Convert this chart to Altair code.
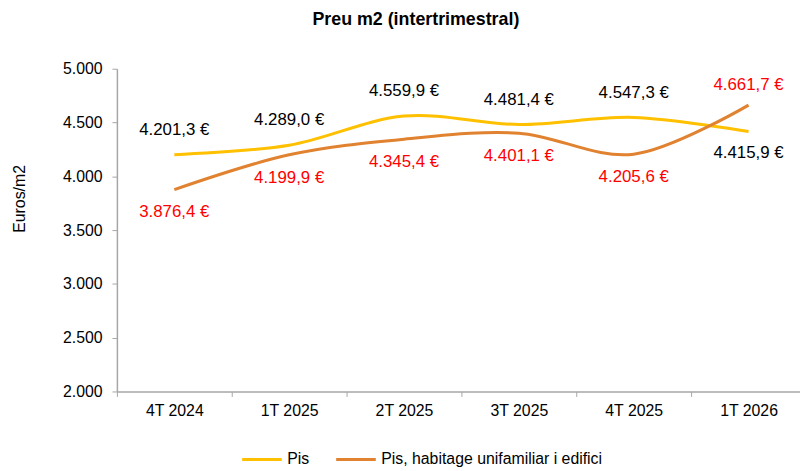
import json
import altair as alt
import pandas as pd

quarters = ["4T 2024", "1T 2025", "2T 2025", "3T 2025", "4T 2025", "1T 2026"]
series_names = ["Pis", "Pis, habitage unifamiliar i edifici"]
pis = [4201.3, 4289.0, 4559.9, 4481.4, 4547.3, 4415.9]
pis_hab = [3876.4, 4199.9, 4345.4, 4401.1, 4205.6, 4661.7]
colors = ["#FFC000", "#E0822F"]
label_colors = ["#000000", "#FF0000"]


def fmt(v):
    s = f"{v:,.1f}".replace(",", "X").replace(".", ",").replace("X", ".")
    return s + " €"


rows = []
for name, vals in zip(series_names, [pis, pis_hab]):
    for i, (q, v) in enumerate(zip(quarters, vals)):
        rows.append({"i": i, "q": q, "serie": name, "v": v, "label": fmt(v)})
df = pd.DataFrame(rows)

FONT = "Liberation Sans"
LAST = quarters[-1]
n = len(quarters)

# the plot area is cut by the right edge of the picture, as in the reference
xscale = alt.Scale(domain=[-0.5, n - 0.552], nice=False, zero=False)

tick_axis = alt.Axis(
    orient="bottom",
    title=None,
    values=[k - 0.5 for k in range(n + 1)],
    labels=False,
    tickSize=5,
    tickColor="#A6A6A6",
    domainColor="#A6A6A6",
    domainWidth=1.5,
    grid=False,
)
label_axis = alt.Axis(
    orient="bottom",
    title=None,
    values=list(range(n)),
    labelExpr=f"{json.dumps(quarters)}[datum.value]",
    labelAngle=0,
    labelFont=FONT,
    labelFontSize=16,
    labelColor="#000000",
    labelPadding=11,
    ticks=False,
    domain=False,
    grid=False,
)

y = alt.Y(
    "v:Q",
    scale=alt.Scale(domain=[2000, 5000], nice=False, zero=False),
    axis=alt.Axis(
        title="Euros/m2",
        values=[2000, 2500, 3000, 3500, 4000, 4500, 5000],
        labelExpr="replace(format(datum.value, ',d'), ',', '.')",
        labelFont=FONT,
        labelFontSize=16,
        labelColor="#000000",
        labelPadding=10,
        tickSize=5,
        tickColor="#A6A6A6",
        domainColor="#A6A6A6",
        domainWidth=1.5,
        grid=False,
        titleFont=FONT,
        titleFontSize=16,
        titleFontWeight="normal",
        titleColor="#000000",
        titleAngle=-90,
        titleX=-98,
        titleY=131,
        titleAlign="center",
        titleBaseline="middle",
    ),
)

base = alt.Chart(df)

lines = base.mark_line(strokeWidth=3, interpolate="cardinal", tension=0).encode(
    x=alt.X("i:Q", scale=xscale, axis=tick_axis),
    y=y,
    color=alt.Color(
        "serie:N",
        sort=series_names,
        scale=alt.Scale(domain=series_names, range=colors),
        legend=alt.Legend(
            title=None,
            orient="none",
            legendX=125,
            legendY=373,
            direction="horizontal",
            symbolType="stroke",
            symbolSize=1600,
            symbolStrokeWidth=3,
            labelFont=FONT,
            labelFontSize=16,
            labelColor="#000000",
            labelLimit=400,
            labelOffset=4,
            columnPadding=20,
            padding=0,
        ),
    ),
)


def labels(serie, color, dy, last, axis=None):
    cond = f"datum.q {'==' if last else '!='} '{LAST}'"
    return (
        base.transform_filter(alt.datum.serie == serie)
        .transform_filter(cond)
        .mark_text(font=FONT, fontSize=17, color=color, dy=dy, baseline="middle", align="center")
        .encode(x=alt.X("i:Q", scale=xscale, axis=axis), y=y, text="label:N")
    )


chart = (
    alt.layer(
        lines,
        labels(series_names[0], label_colors[0], -25, False, axis=label_axis),
        labels(series_names[0], label_colors[0], 22, True),
        labels(series_names[1], label_colors[1], 23, False),
        labels(series_names[1], label_colors[1], -20, True),
    )
    .resolve_axis(x="independent")
    .properties(
        width=690,
        height=326,
        title=alt.TitleParams(
            "Preu m2 (intertrimestral)",
            font=FONT,
            fontSize=18,
            fontWeight="bold",
            color="#000000",
            anchor="middle",
            frame="group",
            dx=-43,
            offset=32,
        ),
        autosize=alt.AutoSizeParams(type="none"),
        padding={"left": 110, "top": 59, "right": 0, "bottom": 78},
    )
    .configure_view(stroke=None)
)

chart.save("out.html", embed_options={"renderer": "svg", "actions": False})
